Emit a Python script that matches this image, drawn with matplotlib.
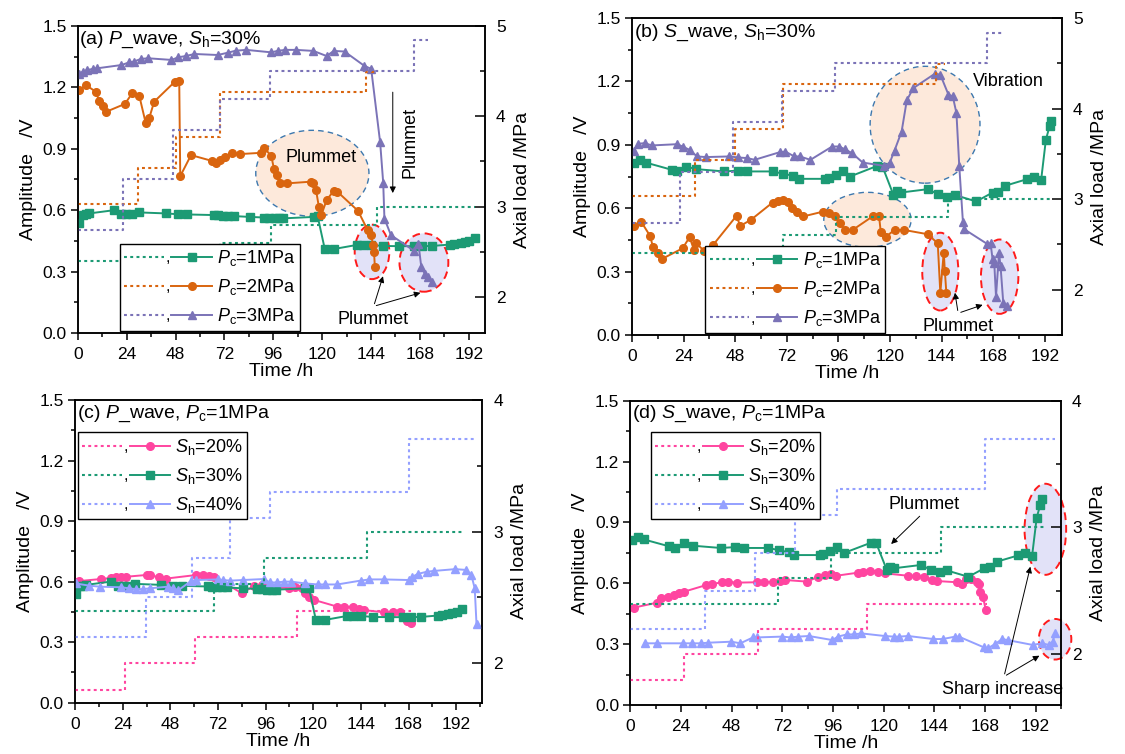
import matplotlib
matplotlib.use("Agg")
import matplotlib.pyplot as plt
from matplotlib.lines import Line2D
from matplotlib.text import Text
from matplotlib.patches import Ellipse
from matplotlib.ticker import MultipleLocator

plt.rcParams['font.family'] = ['Liberation Sans', 'DejaVu Sans']
plt.rcParams['mathtext.fontset'] = 'custom'
plt.rcParams['mathtext.rm'] = 'Liberation Sans'
plt.rcParams['mathtext.it'] = 'Liberation Sans:italic'
plt.rcParams['axes.linewidth'] = 1.1

GREEN = '#1c9a74'
ORANGE = '#d9650f'
PURPLE = '#7b73b7'
PINK = '#ff45a0'
BLUE = '#94a0ff'

# ---- axial load schedules (right axis, MPa) ----
load_t_pc1 = [0, 70, 95, 147, 195]
load_pc1 = [2.4, 2.6, 2.8, 3.0, 3.0]
load_t_pc2 = [0, 29.5, 48, 70, 141.5, 145.5]
load_pc2 = [3.03, 3.43, 3.77, 4.27, 4.49, 4.49]
load_t_pc3 = [0, 22.3, 46.8, 69.6, 94.5, 165, 172]
load_pc3 = [2.74, 3.3, 3.85, 4.19, 4.5, 4.84, 4.84]

load_t_sh20 = [0, 25.4, 60.6, 112, 169]
load_sh20 = [1.8, 2.0, 2.2, 2.4, 2.4]
load_t_sh30 = [0, 70, 95, 147, 196]
load_sh30 = [2.4, 2.6, 2.8, 3.0, 3.0]
load_t_sh40 = [0, 35.6, 59, 78, 98, 168, 201]
load_sh40 = [2.2, 2.5, 2.8, 3.1, 3.3, 3.7, 3.7]

# ---- P wave, Sh=30% ----
pw_t1 = [0.7, 2.5, 4.0, 5.6, 17.9, 21.4, 23.5, 26.7, 30, 43.3, 49.4, 53.8, 67, 69, 71.4,
         74, 76.6, 84.5, 91.5, 94, 96.8, 99, 101, 116, 117.8, 121.3, 125.7, 137, 140,
         144, 150, 158, 165, 169, 174, 182.7, 185, 188, 190, 192.3, 195]
pw_a1 = [0.538, 0.576, 0.58, 0.584, 0.60, 0.58, 0.58, 0.58, 0.589, 0.584, 0.58, 0.579, 0.576,
         0.575, 0.571, 0.572, 0.571, 0.567, 0.564, 0.562, 0.56, 0.56, 0.56, 0.567, 0.57, 0.41,
         0.41, 0.43, 0.43, 0.43, 0.425, 0.424, 0.424, 0.424, 0.425, 0.432, 0.436, 0.44, 0.443,
         0.45, 0.466]
pw_t2 = [0.7, 3.9, 8.8, 10.5, 12.6, 14, 23.1, 26.7, 30.2, 33.3, 35, 37.5, 47.7, 49.8, 50.3,
         55.6, 66.1, 67.8, 70, 72.2, 75.7, 79.6, 89.8, 91.6, 95, 96.4, 97.7, 99.4, 102.9,
         114.3, 115.7, 117, 118.4, 119.6, 122.2, 125.7, 127.5, 137.6, 142.4, 144.1, 145,
         145.5, 145.9]
pw_a2 = [1.187, 1.211, 1.179, 1.133, 1.109, 1.081, 1.119, 1.171, 1.158, 1.027, 1.048, 1.13,
         1.228, 1.233, 0.766, 0.869, 0.84, 0.828, 0.845, 0.861, 0.877, 0.874, 0.88, 0.902, 0.866,
         0.799, 0.771, 0.734, 0.731, 0.739, 0.731, 0.698, 0.616, 0.576, 0.649, 0.695, 0.69,
         0.597, 0.502, 0.478, 0.429, 0.396, 0.323]
pw_t3 = [0.7, 2.5, 4.7, 7.4, 9.5, 21.4, 25.2, 27.5, 31, 34.5, 46, 49.4, 53, 57.3, 68.7, 74,
         77.5, 82.8, 95, 98.5, 102, 107.3, 115.7, 122.2, 125.7, 131, 140.6, 144.1, 148.5, 150,
         150.6, 153.8, 165.2, 167.3, 168.7, 170.4, 172.2, 174]
pw_a3 = [1.265, 1.277, 1.285, 1.29, 1.293, 1.309, 1.322, 1.326, 1.339, 1.342, 1.334, 1.347,
         1.353, 1.363, 1.358, 1.37, 1.379, 1.383, 1.371, 1.379, 1.383, 1.383, 1.378, 1.353,
         1.378, 1.375, 1.306, 1.29, 0.931, 0.734, 0.559, 0.478, 0.401, 0.437, 0.323, 0.29,
         0.274, 0.249]

# ---- S wave, Sh=30% ----
sw_t1 = [0.8, 3.7, 6.4, 18.4, 21, 25.2, 29.8, 42.8, 49.5, 53.7, 65.4, 70.4, 75.1, 77.5, 89.7,
         91.4, 94.7, 98.1, 101.4, 114, 116.5, 121.6, 123.2, 124.9, 137.5, 142.5, 146.7, 150,
         160.1, 167.7, 170.2, 173.5, 183.6, 187, 190.3, 192.5, 194.2, 194.8]
sw_a1 = [0.813, 0.826, 0.816, 0.782, 0.774, 0.797, 0.785, 0.774, 0.778, 0.774, 0.774, 0.763,
         0.753, 0.739, 0.739, 0.742, 0.758, 0.778, 0.75, 0.8, 0.797, 0.663, 0.682, 0.674, 0.69,
         0.666, 0.655, 0.663, 0.632, 0.674, 0.679, 0.706, 0.737, 0.75, 0.734, 0.924, 0.987, 1.015]
sw_t2 = [0.8, 4.2, 8.4, 9.7, 12.1, 13.9, 23.5, 26.8, 28.8, 29.8, 33.5, 37.7, 48.6, 50.3, 55.3,
         65.4, 67.9, 70.4, 72.4, 74.6, 76.8, 79.6, 88.9, 91.4, 94.2, 96.7, 99.2, 102.6, 112.3,
         114.9, 115.7, 118.2, 122.1, 126.6, 137.5, 142.2, 143.4, 145, 145.5, 146.2]
sw_a2 = [0.516, 0.537, 0.469, 0.418, 0.387, 0.36, 0.41, 0.463, 0.403, 0.434, 0.399, 0.426,
         0.564, 0.516, 0.545, 0.627, 0.632, 0.639, 0.628, 0.6, 0.584, 0.561, 0.584, 0.576,
         0.561, 0.529, 0.497, 0.497, 0.564, 0.561, 0.489, 0.466, 0.497, 0.497, 0.477, 0.434,
         0.2, 0.39, 0.305, 0.2]
sw_t3 = [0.8, 3, 5.9, 9.2, 21, 23.5, 26.8, 30.2, 34.4, 45.3, 49.5, 53.7, 57, 68.7, 71.3, 75.5,
         78, 83, 93.1, 96.4, 98.9, 102.3, 107.3, 117.4, 119.9, 122.1, 125.4, 127.8, 130.8,
         140.8, 143.4, 147.2, 149.2, 150.9, 152.2, 153.9, 154.6, 165.2, 166.8, 167.7, 168.5,
         169.3, 170.7, 171.4, 172.7, 174.4]
sw_a3 = [0.873, 0.905, 0.908, 0.897, 0.903, 0.892, 0.876, 0.845, 0.842, 0.845, 0.84, 0.837,
         0.829, 0.865, 0.868, 0.845, 0.845, 0.829, 0.892, 0.892, 0.879, 0.861, 0.816, 0.8,
         0.816, 0.873, 0.963, 1.11, 1.168, 1.236, 1.232, 1.137, 1.129, 1.05, 0.802, 0.537, 0.5,
         0.431, 0.434, 0.358, 0.339, 0.182, 0.387, 0.328, 0.15, 0.137]

# ---- P wave, Pc=1MPa (Sh=30% is the same test as pw_t1) ----
pc_t20 = [0.9, 2.2, 13.1, 18, 20.7, 23.4, 25.5, 36, 37.8, 42.2, 45.8, 61.1, 64.7, 67.4, 70.1,
          84.1, 90.2, 94.4, 98, 107.9, 110.6, 114.2, 116, 117.8, 120.5, 132.1, 135.7, 140.2,
          143, 145.6, 155.5, 160, 163.6, 165.4, 167.2, 169]
pc_a20 = [0.6, 0.603, 0.613, 0.618, 0.621, 0.624, 0.624, 0.633, 0.633, 0.621, 0.615, 0.633,
          0.633, 0.629, 0.624, 0.542, 0.58, 0.583, 0.567, 0.57, 0.575, 0.567, 0.542, 0.525,
          0.509, 0.476, 0.476, 0.476, 0.463, 0.459, 0.448, 0.451, 0.448, 0.426, 0.406, 0.393]
pc_t40 = [0.4, 7.2, 12.6, 23.4, 27, 30.6, 34.2, 37.8, 46.7, 49.4, 52.1, 58.4, 61.1, 71.9, 74.5,
          78.2, 84.5, 95.3, 98, 101.6, 105.2, 108.8, 116, 122.2, 125.8, 132.1, 143.8, 148.3,
          155.5, 168.1, 169.9, 172.6, 177.1, 180.7, 191.5, 196.9, 199.6, 201.3, 202.2]
pc_a40 = [0.591, 0.58, 0.575, 0.572, 0.567, 0.563, 0.563, 0.567, 0.575, 0.567, 0.558, 0.603,
          0.608, 0.611, 0.608, 0.605, 0.608, 0.613, 0.596, 0.596, 0.6, 0.6, 0.591, 0.586, 0.586,
          0.586, 0.605, 0.611, 0.611, 0.608, 0.624, 0.638, 0.649, 0.653, 0.662, 0.658, 0.633,
          0.567, 0.39]

# ---- S wave, Pc=1MPa (Sh=30% is the same test as sw_t1) ----
sc_t20 = [1.7, 12.5, 14.5, 17.95, 20.5, 23.1, 25.6, 35.9, 38.5, 43.6, 46.2, 50.4, 59.8, 63.3,
          67.5, 71, 73.5, 83.8, 88.9, 92.3, 94.9, 97.5, 107.7, 110.3, 113.7, 117.1, 120.5,
          131.6, 135.1, 139.3, 142.8, 145.3, 154.7, 157.3, 159, 161.6, 164.1, 165, 165.8, 167,
          168.4]
sc_a20 = [0.48, 0.504, 0.526, 0.534, 0.542, 0.55, 0.559, 0.591, 0.596, 0.605, 0.608, 0.603,
          0.605, 0.605, 0.608, 0.611, 0.616, 0.608, 0.632, 0.641, 0.644, 0.637, 0.652, 0.657,
          0.662, 0.657, 0.649, 0.637, 0.637, 0.629, 0.616, 0.611, 0.605, 0.596, 0.619, 0.621,
          0.608, 0.596, 0.559, 0.534, 0.468]
sc_t40 = [6.8, 12.5, 24.8, 29.1, 33.3, 36.8, 47.9, 52.1, 58.1, 59.8, 71.8, 76.1, 79.5, 84.6,
          95.7, 98.3, 102.6, 106, 109.4, 120.5, 124.8, 127.4, 131.6, 143.6, 147.9, 153.9, 155.6,
          167.5, 169.3, 172.7, 176.1, 178.7, 190.6, 194.9, 198.3, 200, 201.2]
sc_a40 = [0.304, 0.304, 0.304, 0.304, 0.304, 0.307, 0.312, 0.304, 0.333, 0.333, 0.337, 0.333,
          0.337, 0.34, 0.32, 0.337, 0.348, 0.348, 0.353, 0.34, 0.337, 0.337, 0.34, 0.325, 0.325,
          0.337, 0.337, 0.284, 0.279, 0.3, 0.325, 0.32, 0.296, 0.304, 0.296, 0.312, 0.353]


class PairHandler:
    """Legend key: dotted load line, a comma, then the amplitude line with marker."""

    def legend_artist(self, legend, orig_handle, fontsize, handlebox):
        dotted, solid = orig_handle
        x0, y0 = -handlebox.xdescent, -handlebox.ydescent
        w, h = handlebox.width, handlebox.height
        ym = y0 + h / 2
        trans = handlebox.get_transform()
        left = Line2D([x0, x0 + 0.45 * w], [ym, ym])
        left.update_from(dotted)
        left.set_drawstyle('default')
        right = Line2D([x0 + 0.54 * w, x0 + 0.77 * w, x0 + w], [ym, ym, ym])
        right.update_from(solid)
        right.set_markevery([1])
        comma = Text(x0 + 0.495 * w, ym - 4, ',', fontsize=fontsize * 0.9,
                     ha='center', va='baseline')
        for art in (left, right, comma):
            art.set_transform(trans)
            art.set_clip_on(False)
            handlebox.add_artist(art)
        return right


def setup(ax, xmax, rlim, rticks):
    ax.set_xlim(0, xmax)
    ax.set_ylim(0, 1.5)
    ax.xaxis.set_major_locator(MultipleLocator(24))
    ax.xaxis.set_minor_locator(MultipleLocator(12))
    ax.yaxis.set_major_locator(MultipleLocator(0.3))
    ax.yaxis.set_minor_locator(MultipleLocator(0.15))
    ax.yaxis.set_major_formatter('{x:.1f}')
    ax.tick_params(which='both', direction='out', labelsize=12.5, width=1.1)
    ax.tick_params(axis='x', which='major', length=5, pad=5)
    ax.tick_params(axis='y', which='major', length=5, pad=3)
    ax.tick_params(which='minor', length=3)
    ax.set_xlabel('Time /h', fontsize=14, labelpad=1)
    ax.set_ylabel('Amplitude   /V', fontsize=14, labelpad=4)
    ax2 = ax.twinx()
    ax2.set_ylim(*rlim)
    ax2.set_yticks(rticks)
    ax2.yaxis.set_minor_locator(MultipleLocator(0.5))
    ax2.tick_params(which='both', direction='in', labelsize=12.5, width=1.1)
    ax2.tick_params(which='major', length=7, pad=8)
    ax2.tick_params(which='minor', length=3.5)
    ax2.set_ylabel('Axial load /MPa', fontsize=14, labelpad=6)
    return ax2


def steps(ax2, t, v, color):
    return ax2.plot(t, v, drawstyle='steps-post', ls=(0, (1.4, 1.6)), lw=1.5, color=color)[0]


def series(ax, t, a, color, marker, ms=5.5):
    return ax.plot(t, a, color=color, lw=1.4, marker=marker, ms=ms, zorder=3)[0]


def blob(ax, xy, w, h, warm=True):
    if warm:
        e = Ellipse(xy, w, h, fc='#fde9db', ec='#3d78ae', ls=(0, (4, 3)), lw=1.0, zorder=1)
    else:
        e = Ellipse(xy, w, h, fc='#e2e2f8', ec='#ff1a1a', ls=(0, (4, 2.5)), lw=1.4, zorder=1)
    e.set_clip_on(False)
    ax.add_patch(e)


def arrow(ax, start, end):
    ax.annotate('', xy=end, xytext=start,
                arrowprops=dict(arrowstyle='-|>', color='k', lw=0.7, mutation_scale=9))


def key(ax2, handles, labels, anchor, loc):
    ax2.legend(handles=handles, labels=labels, handler_map={tuple: PairHandler()},
               loc=loc, bbox_to_anchor=anchor, fontsize=13, handlelength=4.85,
               handletextpad=0.3, borderpad=0.25, labelspacing=0.5, borderaxespad=0,
               fancybox=False, framealpha=1, edgecolor='k').get_frame().set_linewidth(1.0)


fig = plt.figure(figsize=(11.25, 7.54), dpi=100)
ax_a = fig.add_axes([0.0692, 0.5584, 0.3619, 0.4072])
ax_b = fig.add_axes([0.5618, 0.5557, 0.3822, 0.4204])
ax_c = fig.add_axes([0.0667, 0.0680, 0.3618, 0.4015])
ax_d = fig.add_axes([0.5603, 0.0650, 0.3828, 0.4036])

# (a) P wave, Sh=30%
r_a = setup(ax_a, 200, (1.6, 5), [2, 3, 4, 5])
blob(ax_a, (115.2, 0.78), 55.6, 0.42)
blob(ax_a, (144.5, 0.396), 17, 0.266, warm=False)
blob(ax_a, (170, 0.344), 24, 0.285, warm=False)
d1 = steps(r_a, load_t_pc1, load_pc1, GREEN)
d2 = steps(r_a, load_t_pc2, load_pc2, ORANGE)
d3 = steps(r_a, load_t_pc3, load_pc3, PURPLE)
s1 = series(ax_a, pw_t1, pw_a1, GREEN, 's')
s2 = series(ax_a, pw_t2, pw_a2, ORANGE, 'o')
s3 = series(ax_a, pw_t3, pw_a3, PURPLE, '^')
ax_a.text(0.004, 0.955, r'(a) $P$_wave, $S_{\rm h}$=30%', transform=ax_a.transAxes,
          fontsize=14, va='center')
ax_a.text(119.6, 0.858, 'Plummet', fontsize=13, ha='center', va='center')
ax_a.text(163, 0.93, 'Plummet', fontsize=13, ha='center', va='center', rotation=90)
arrow(ax_a, (154.7, 1.19), (154.7, 0.67))
ax_a.text(145, 0.065, 'Plummet', fontsize=13, ha='center', va='center')
arrow(ax_a, (145.3, 0.13), (150.3, 0.29))
arrow(ax_a, (145.3, 0.13), (169.6, 0.2))
key(r_a, [(d1, s1), (d2, s2), (d3, s3)],
    [r'$P_{\rm c}$=1MPa', r'$P_{\rm c}$=2MPa', r'$P_{\rm c}$=3MPa'],
    (0.1025, 0.0075), 'lower left')

# (b) S wave, Sh=30%
r_b = setup(ax_b, 200, (1.5, 5), [2, 3, 4, 5])
blob(ax_b, (136.3, 0.995), 51.1, 0.553)
blob(ax_b, (109.5, 0.545), 40.6, 0.26)
blob(ax_b, (143.4, 0.3), 16.8, 0.368, warm=False)
blob(ax_b, (171, 0.276), 17.4, 0.352, warm=False)
d1 = steps(r_b, load_t_pc1, load_pc1, GREEN)
d2 = steps(r_b, load_t_pc2, load_pc2, ORANGE)
d3 = steps(r_b, load_t_pc3, load_pc3, PURPLE)
s1 = series(ax_b, sw_t1, sw_a1, GREEN, 's')
s2 = series(ax_b, sw_t2, sw_a2, ORANGE, 'o')
s3 = series(ax_b, sw_t3, sw_a3, PURPLE, '^')
ax_b.text(0.004, 0.953, r'(b) $S$_wave, $S_{\rm h}$=30%', transform=ax_b.transAxes,
          fontsize=14, va='center')
ax_b.text(175.2, 1.2, 'Vibration', fontsize=13, ha='center', va='center')
ax_b.text(151.7, 0.04, 'Plummet', fontsize=13, ha='center', va='center')
arrow(ax_b, (151.7, 0.103), (150, 0.213))
arrow(ax_b, (151.7, 0.103), (164.3, 0.147))
key(r_b, [(d1, s1), (d2, s2), (d3, s3)],
    [r'$P_{\rm c}$=1MPa', r'$P_{\rm c}$=2MPa', r'$P_{\rm c}$=3MPa'],
    (0.170, 0.007), 'lower left')

# (c) P wave, Pc=1MPa
r_c = setup(ax_c, 205, (1.7, 4), [2, 3, 4])
d1 = steps(r_c, load_t_sh20, load_sh20, PINK)
d2 = steps(r_c, load_t_sh30, load_sh30, GREEN)
d3 = steps(r_c, load_t_sh40, load_sh40, BLUE)
s1 = series(ax_c, pc_t20, pc_a20, PINK, 'o')
s2 = series(ax_c, pw_t1, pw_a1, GREEN, 's')
s3 = series(ax_c, pc_t40, pc_a40, BLUE, '^')
ax_c.text(0.004, 0.956, r'(c) $P$_wave, $P_{\rm c}$=1MPa', transform=ax_c.transAxes,
          fontsize=14, va='center')
key(r_c, [(d1, s1), (d2, s2), (d3, s3)],
    [r'$S_{\rm h}$=20%', r'$S_{\rm h}$=30%', r'$S_{\rm h}$=40%'],
    (0.007, 0.893), 'upper left')

# (d) S wave, Pc=1MPa
r_d = setup(ax_d, 204, (1.6, 4), [2, 3, 4])
blob(ax_d, (196.6, 0.866), 19.7, 0.449, warm=False)
blob(ax_d, (201.2, 0.324), 15.4, 0.2, warm=False)
d1 = steps(r_d, load_t_sh20, load_sh20, PINK)
d2 = steps(r_d, load_t_sh30, load_sh30, GREEN)
d3 = steps(r_d, load_t_sh40, load_sh40, BLUE)
s1 = series(ax_d, sc_t20, sc_a20, PINK, 'o')
s2 = series(ax_d, sw_t1, sw_a1, GREEN, 's')
s3 = series(ax_d, sc_t40, sc_a40, BLUE, '^')
ax_d.text(0.004, 0.958, r'(d) $S$_wave, $P_{\rm c}$=1MPa', transform=ax_d.transAxes,
          fontsize=14, va='center')
ax_d.text(139.3, 0.986, 'Plummet', fontsize=13, ha='center', va='center')
arrow(ax_d, (138, 0.94), (122.6, 0.784))
ax_d.text(176.1, 0.077, 'Sharp increase', fontsize=13, ha='center', va='center')
arrow(ax_d, (177, 0.14), (189.8, 0.695))
arrow(ax_d, (177, 0.14), (194.9, 0.25))
key(r_d, [(d1, s1), (d2, s2), (d3, s3)],
    [r'$S_{\rm h}$=20%', r'$S_{\rm h}$=30%', r'$S_{\rm h}$=40%'],
    (0.0476, 0.896), 'upper left')

fig.savefig('out.png', dpi=100)
